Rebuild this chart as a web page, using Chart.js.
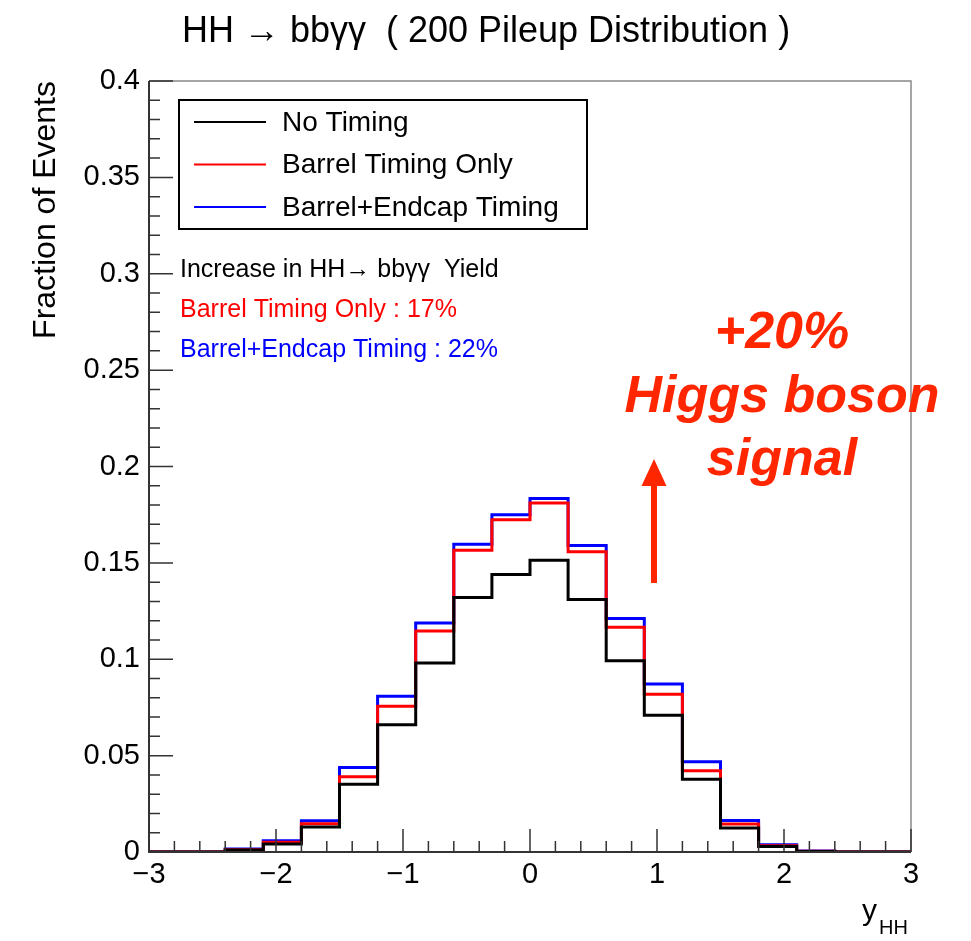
<!DOCTYPE html>
<html>
<head>
<meta charset="utf-8">
<script src="https://cdn.jsdelivr.net/npm/chart.js@4/dist/chart.umd.min.js"></script>
<style>
    html, body { margin: 0; padding: 0; background: #ffffff; }
    #wrap { width: 971px; height: 941px; }
</style>
</head>
<body>
<div id="wrap"><canvas id="yhhChart" width="971" height="941"></canvas></div>
<script>
// bin edges (20 bins of 0.3 from -3 to 3)
const binEdges = [-3, -2.7, -2.4, -2.1, -1.8, -1.5, -1.2, -0.9, -0.6, -0.3, 0, 0.3, 0.6, 0.9, 1.2, 1.5, 1.8, 2.1, 2.4, 2.7, 3];

// fraction of events per bin
const noTiming     = [0, 0, 0.0010, 0.0042, 0.0130, 0.0352, 0.0660, 0.0980, 0.1320, 0.1440, 0.1514, 0.1310, 0.0992, 0.0710, 0.0377, 0.0125, 0.0028, 0.0003, 0, 0];
const barrelTiming = [0, 0, 0.0012, 0.0050, 0.0147, 0.0390, 0.0756, 0.1146, 0.1565, 0.1724, 0.1811, 0.1558, 0.1166, 0.0818, 0.0422, 0.0145, 0.0033, 0.0004, 0, 0];
const endcapTiming = [0, 0, 0.0015, 0.0058, 0.0162, 0.0438, 0.0808, 0.1188, 0.1596, 0.1750, 0.1834, 0.1590, 0.1211, 0.0871, 0.0468, 0.0163, 0.0038, 0.0005, 0, 0];

const seriesNames = ['No Timing', 'Barrel Timing Only', 'Barrel+Endcap Timing'];
const seriesColors = ['#000000', '#ff0000', '#0000ff'];

// axis tick labels
const xTickValues = [-3, -2, -1, 0, 1, 2, 3];
const yTickValues = [0, 0.05, 0.1, 0.15, 0.2, 0.25, 0.3, 0.35, 0.4];

const FONT = "'Liberation Sans', Arial, Helvetica, sans-serif";
Chart.defaults.font.family = FONT;

function toSteps(values) {
    const pts = values.map((v, i) => ({ x: binEdges[i], y: v }));
    pts.push({ x: binEdges[binEdges.length - 1], y: values[values.length - 1] });
    return pts;
}

function fmtNum(v) {
    const s = String(Math.round(v * 1000) / 1000);
    return v < 0 ? '\u2212' + s.slice(1) : s;
}

// frame, inward ticks, legend box and text annotations
const rootStyle = {
    id: 'rootStyle',
    afterDraw(chart) {
        const ctx = chart.ctx;
        const a = chart.chartArea;
        const xs = chart.scales.x, ys = chart.scales.y;
        ctx.save();

        // frame
        ctx.lineWidth = 1.5;
        ctx.strokeStyle = '#888888';
        ctx.beginPath();
        ctx.moveTo(a.left, a.top); ctx.lineTo(a.right, a.top); ctx.lineTo(a.right, a.bottom);
        ctx.stroke();
        ctx.strokeStyle = '#333333';
        ctx.lineWidth = 2;
        ctx.beginPath();
        ctx.moveTo(a.left, a.top); ctx.lineTo(a.left, a.bottom); ctx.lineTo(a.right, a.bottom);
        ctx.stroke();

        // ticks
        ctx.lineWidth = 1.5;
        ctx.strokeStyle = '#333333';
        ctx.beginPath();
        for (let i = 0; i <= 30; i++) {
            const v = -3 + i * 0.2;
            const px = xs.getPixelForValue(v);
            const len = (i % 5 === 0) ? 23 : 11;
            ctx.moveTo(px, a.bottom); ctx.lineTo(px, a.bottom - len);
        }
        for (let i = 0; i <= 40; i++) {
            const v = i * 0.01;
            const py = ys.getPixelForValue(v);
            const len = (i % 5 === 0) ? 24 : 11;
            ctx.moveTo(a.left, py); ctx.lineTo(a.left + len, py);
        }
        ctx.stroke();

        // title
        ctx.fillStyle = '#000000';
        ctx.textAlign = 'center';
        ctx.textBaseline = 'alphabetic';
        ctx.font = '36px ' + FONT;
        ctx.fillText('HH \u2192 bb\u03b3\u03b3  ( 200 Pileup Distribution )', 486, 42);

        // y axis title
        ctx.save();
        ctx.translate(46, a.top);
        ctx.rotate(-Math.PI / 2);
        ctx.textAlign = 'right';
        ctx.textBaseline = 'middle';
        ctx.font = '32px ' + FONT;
        ctx.fillText('Fraction of Events', 0, 0);
        ctx.restore();

        // x axis title
        ctx.textAlign = 'left';
        ctx.font = '30px ' + FONT;
        ctx.fillText('y', 862, 920);
        ctx.font = '20px ' + FONT;
        ctx.fillText('HH', 879, 934);

        // legend box
        ctx.lineWidth = 2;
        ctx.strokeStyle = '#000000';
        ctx.fillStyle = '#ffffff';
        ctx.fillRect(179, 100, 408, 129);
        ctx.strokeRect(179, 100, 408, 129);
        const rows = [122, 164.5, 207];
        ctx.font = '28px ' + FONT;
        ctx.textBaseline = 'middle';
        rows.forEach((y, i) => {
            ctx.strokeStyle = seriesColors[i];
            ctx.lineWidth = 2;
            ctx.beginPath();
            ctx.moveTo(194, y); ctx.lineTo(266, y);
            ctx.stroke();
            ctx.fillStyle = '#000000';
            ctx.fillText(seriesNames[i], 282, y + 1);
        });

        // yield text
        ctx.textBaseline = 'alphabetic';
        ctx.font = '25px ' + FONT;
        ctx.fillStyle = '#000000';
        ctx.fillText('Increase in HH\u2192 bb\u03b3\u03b3  Yield', 180, 277);
        ctx.fillStyle = '#ff0000';
        ctx.fillText('Barrel Timing Only : 17%', 180, 317);
        ctx.fillStyle = '#0000ff';
        ctx.fillText('Barrel+Endcap Timing : 22%', 180, 357);

        // big annotation
        ctx.fillStyle = '#ff2600';
        ctx.textAlign = 'center';
        ctx.font = 'italic bold 52px ' + FONT;
        ctx.fillText('+20%', 782, 348);
        ctx.fillText('Higgs boson', 782, 412);
        ctx.fillText('signal', 782, 475);

        // arrow
        ctx.fillRect(651, 483, 6, 100);
        ctx.beginPath();
        ctx.moveTo(654, 459);
        ctx.lineTo(641.5, 486);
        ctx.lineTo(666.5, 486);
        ctx.closePath();
        ctx.fill();

        ctx.restore();
    }
};

function makeDataset(values, idx) {
    return {
        label: seriesNames[idx],
        data: toSteps(values),
        borderColor: seriesColors[idx],
        borderWidth: 3,
        stepped: 'before',
        pointRadius: 0,
        fill: false,
        order: idx
    };
}

new Chart(document.getElementById('yhhChart').getContext('2d'), {
    type: 'line',
    data: {
        datasets: [
            makeDataset(noTiming, 0),
            makeDataset(barrelTiming, 1),
            makeDataset(endcapTiming, 2)
        ]
    },
    options: {
        responsive: false,
        animation: false,
        devicePixelRatio: 1,
        layout: { padding: { top: 81, right: 60, left: 0, bottom: 0 } },
        plugins: {
            legend: { display: false },
            title: { display: false },
            tooltip: { enabled: false }
        },
        scales: {
            x: {
                type: 'linear',
                min: -3,
                max: 3,
                grid: { display: false, drawTicks: false },
                border: { display: false },
                afterBuildTicks: scale => { scale.ticks = xTickValues.map(v => ({ value: v })); },
                afterFit: scale => { scale.height = 89; },
                ticks: {
                    color: '#000000',
                    font: { size: 29 },
                    padding: 6,
                    maxRotation: 0,
                    autoSkip: false,
                    callback: v => fmtNum(v)
                }
            },
            y: {
                type: 'linear',
                min: 0,
                max: 0.4,
                grid: { display: false, drawTicks: false },
                border: { display: false },
                afterBuildTicks: scale => { scale.ticks = yTickValues.map(v => ({ value: v })); },
                afterFit: scale => { scale.width = 149; },
                ticks: {
                    color: '#000000',
                    font: { size: 29 },
                    padding: 9,
                    autoSkip: false,
                    callback: v => fmtNum(v)
                }
            }
        }
    },
    plugins: [rootStyle]
});
</script>
</body>
</html>
